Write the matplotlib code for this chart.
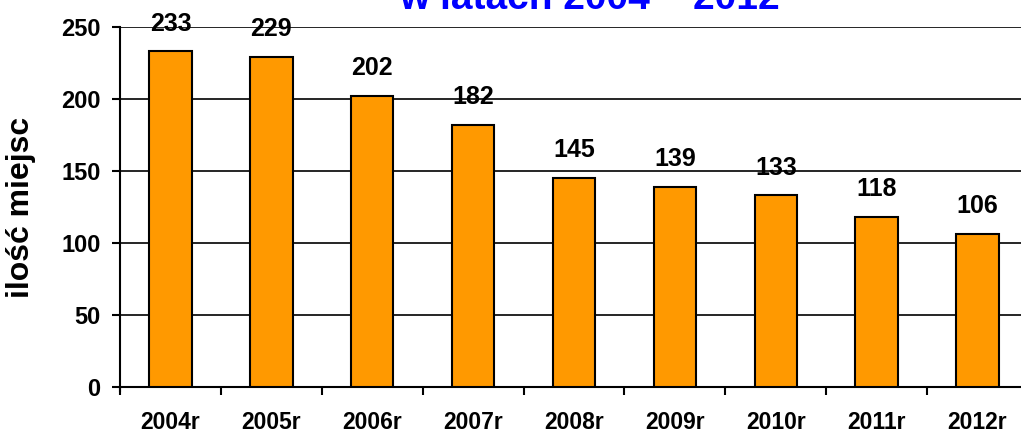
import matplotlib
matplotlib.use("Agg")
import matplotlib.pyplot as plt
import numpy as np

categories = ["2004r", "2005r", "2006r", "2007r", "2008r", "2009r", "2010r", "2011r", "2012r"]
values = [233, 229, 202, 182, 145, 139, 133, 118, 106]
y_ticks = [0, 50, 100, 150, 200, 250]
title_text = "w latach 2004 \u2013 2012"
y_label = "ilość miejsc"

plt.rcParams['font.family'] = ['Liberation Sans', 'DejaVu Sans']
plt.rcParams['font.weight'] = 'bold'

W, H = 1021, 432
fig = plt.figure(figsize=(W / 100, H / 100), dpi=100)
left_px, right_px, bottom_px, top_px = 120, 1028, 387, 27
ax = fig.add_axes([left_px / W, (H - bottom_px) / H, (right_px - left_px) / W, (bottom_px - top_px) / H])

x = np.arange(len(categories))
ax.bar(x, values, width=0.42, color="#FF9900", edgecolor="black", linewidth=1.5, zorder=3)

for xi, v in zip(x, values):
    ax.annotate(str(v), (xi, v), xytext=(0, 11.5), textcoords="offset points",
                ha="center", va="bottom", fontsize=18, fontweight="bold", zorder=4)

ax.set_xlim(-0.5, len(categories) - 0.5)
ax.set_ylim(0, 250)
ax.set_yticks(y_ticks)
ax.set_yticklabels([str(t) for t in y_ticks], fontsize=17, fontweight="bold")
ax.set_xticks(x)
ax.set_xticklabels(categories, fontsize=16.5, fontweight="bold")
ax.set_xticks(np.arange(len(categories) + 1) - 0.5, minor=True)
ax.tick_params(axis="x", which="major", length=0, pad=17)
ax.tick_params(axis="x", which="minor", length=6, width=1.5, direction="out")
ax.tick_params(axis="y", length=6, width=1.5, direction="out", pad=8)

ax.yaxis.grid(True, color="black", linewidth=1.2, zorder=0)
ax.set_axisbelow(True)
for s in ["top", "right"]:
    ax.spines[s].set_visible(False)
ax.spines["left"].set_linewidth(1.5)
ax.spines["bottom"].set_linewidth(1.5)
ax.spines["left"].set_bounds(-3, 250)

fig.text(21 / W, 1 - 207 / H, y_label, rotation=90, ha="center", va="center",
         fontsize=23, fontweight="bold")
fig.text(589 / W, 1 - 9 / H, title_text, ha="center", va="baseline",
         fontsize=28, fontweight="bold", color="#0000FF")

fig.savefig("out.png", dpi=100)
